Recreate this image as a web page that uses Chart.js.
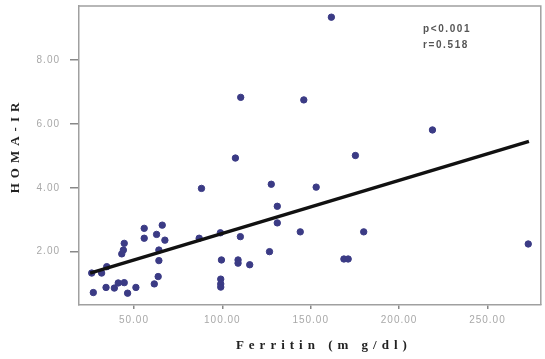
<!DOCTYPE html>
<html>
<head>
<meta charset="utf-8">
<script src="https://cdn.jsdelivr.net/npm/chart.js@4.4.0/dist/chart.umd.min.js"></script>
<style>
  html, body { margin: 0; padding: 0; background: #fff; }
  #wrap { width: 545px; height: 359px; }
</style>
</head>
<body>
<div id="wrap"><canvas id="c" width="545" height="359"></canvas></div>
<script>
// Ferritin (x) values
const ferritin = [161.7, 110.4, 146.1, 218.9, 175.3, 107.4, 153.1, 88.2, 127.7, 131.1,
  131.1, 110.2, 126.7, 99.5, 108.9, 108.9, 115.5, 99.1, 99.1, 99.1,
  86.9, 98.9, 144.1, 180.0, 168.8, 171.2, 273.1, 27.0, 34.2, 38.9,
  41.1, 44.5, 46.4, 51.1, 61.5, 63.7, 64.1, 44.5, 44.0, 43.1,
  55.8, 55.8, 62.8, 66.0, 67.5, 64.1, 26.1, 31.7, 34.6];
// HOMA-IR (y) values
const homaIR = [9.34, 6.83, 6.75, 5.81, 5.01, 4.93, 4.02, 3.98, 4.11, 3.42,
  2.90, 2.47, 2.00, 1.74, 1.74, 1.64, 1.59, 1.14, 0.99, 0.89,
  2.42, 2.59, 2.62, 2.62, 1.77, 1.77, 2.24, 0.72, 0.88, 0.86,
  1.02, 1.03, 0.70, 0.88, 0.99, 1.22, 1.72, 2.26, 2.05, 1.93,
  2.73, 2.42, 2.54, 2.83, 2.36, 2.05, 1.33, 1.33, 1.53];
// Regression line endpoints
const fitX = [25.2, 273.5];
const fitY = [1.33, 5.45];
// Tick values
const xTicks = [50, 100, 150, 200, 250];
const yTicks = [2, 4, 6, 8];
// Texts
const xTitle = "Ferritin (m g/dl)";
const yTitle = "HOMA-IR";
const statsText = ["p<0.001", "r=0.518"];

const points = ferritin.map((x, i) => ({ x: x, y: homaIR[i] }));
const fitLine = fitX.map((x, i) => ({ x: x, y: fitY[i] }));

const decor = {
  id: 'decor',
  beforeDraw(chart) {
    chart.ctx.letterSpacing = '1px';
  },
  beforeDatasetsDraw(chart) {
    chart.ctx.letterSpacing = '0px';
  },
  afterDraw(chart) {
    const ctx = chart.ctx;
    const a = chart.chartArea;
    ctx.save();
    // top & right frame
    ctx.strokeStyle = '#a0a0a0';
    ctx.lineWidth = 1.5;
    ctx.beginPath();
    ctx.moveTo(a.left, a.top);
    ctx.lineTo(a.right, a.top);
    ctx.lineTo(a.right, a.bottom);
    ctx.stroke();
    // x title
    ctx.fillStyle = '#222';
    ctx.font = 'bold 13px "Liberation Serif", serif';
    ctx.letterSpacing = '5px';
    ctx.textAlign = 'center';
    ctx.textBaseline = 'alphabetic';
    ctx.fillText(xTitle, (a.left + a.right) / 2 + 14, 349);
    // y title
    ctx.save();
    ctx.translate(19, (a.top + a.bottom) / 2 - 10);
    ctx.rotate(-Math.PI / 2);
    ctx.font = 'bold 13px "Liberation Serif", serif';
    ctx.letterSpacing = '5px';
    ctx.fillText(yTitle, 0, 0);
    ctx.restore();
    // stats
    ctx.letterSpacing = '1.6px';
    ctx.fillStyle = '#555';
    ctx.font = 'bold 10px "Liberation Sans", sans-serif';
    ctx.textAlign = 'left';
    ctx.fillText(statsText[0], 423, 32);
    ctx.fillText(statsText[1], 423, 48);
    ctx.restore();
  }
};

new Chart(document.getElementById('c'), {
  type: 'scatter',
  data: {
    datasets: [
      {
        data: points,
        backgroundColor: '#3b3b85',
        borderColor: '#3b3b85',
        pointRadius: 3.2,
        pointHoverRadius: 3.2,
        order: 1
      },
      {
        type: 'line',
        data: fitLine,
        showLine: true,
        borderColor: '#111',
        borderWidth: 3.5,
        pointRadius: 0,
        fill: false,
        order: 0
      }
    ]
  },
  plugins: [decor],
  options: {
    responsive: false,
    animation: false,
    events: [],
    layout: { padding: { left: 0, top: 6, right: 3, bottom: 0 } },
    plugins: { legend: { display: false }, tooltip: { enabled: false } },
    scales: {
      x: {
        type: 'linear',
        min: 18.9,
        max: 280.2,
        afterFit(s) { s.height = 54; s.paddingLeft = 0; s.paddingRight = 0; },
        afterBuildTicks(s) { s.ticks = xTicks.map(v => ({ value: v })); },
        border: { display: true, color: '#a0a0a0', width: 1.5 },
        grid: { display: true, drawOnChartArea: false, drawTicks: true, tickLength: 4, tickColor: '#888', lineWidth: 1.5 },
        ticks: {
          padding: 5,
          color: '#a8a8a8',
          font: { family: '"Liberation Sans", sans-serif', size: 10 },
          maxRotation: 0,
          callback: v => v.toFixed(2)
        }
      },
      y: {
        type: 'linear',
        min: 0.33,
        max: 9.69,
        afterFit(s) { s.width = 79; s.paddingTop = 0; s.paddingBottom = 0; },
        afterBuildTicks(s) { s.ticks = yTicks.map(v => ({ value: v })); },
        border: { display: true, color: '#a0a0a0', width: 1.5 },
        grid: { display: true, drawOnChartArea: false, drawTicks: true, tickLength: 9, tickColor: '#888', lineWidth: 1.5 },
        ticks: {
          padding: 10,
          color: '#a8a8a8',
          font: { family: '"Liberation Sans", sans-serif', size: 10 },
          callback: v => v.toFixed(2)
        }
      }
    }
  }
});
</script>
</body>
</html>
